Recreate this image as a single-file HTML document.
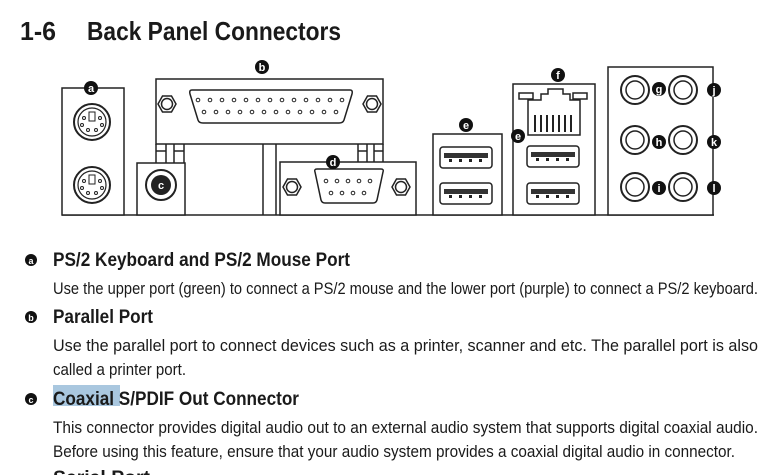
<!DOCTYPE html>
<html><head><meta charset="utf-8"><style>
html,body{margin:0;padding:0;background:#fff;width:770px;height:475px;overflow:hidden}
svg{display:block}
text{font-family:"Liberation Sans",sans-serif;fill:#1a1a1a}
</style></head><body>
<svg width="770" height="475" viewBox="0 0 770 475" xmlns="http://www.w3.org/2000/svg">
<defs>
<g id="ps2"><circle r="18" fill="#fff" stroke="#222" stroke-width="2"/><circle r="14" fill="none" stroke="#222" stroke-width="1.2"/><rect x="-3" y="-10" width="6" height="9" fill="#fff" stroke="#222"/><circle cx="-8" cy="-4" r="1.5" fill="none" stroke="#222"/><circle cx="8" cy="-4" r="1.5" fill="none" stroke="#222"/><circle cx="-10" cy="3" r="1.5" fill="none" stroke="#222"/><circle cx="10" cy="3" r="1.5" fill="none" stroke="#222"/><circle cx="-4" cy="8" r="1.5" fill="none" stroke="#222"/><circle cx="4" cy="8" r="1.5" fill="none" stroke="#222"/></g>
<g id="screw"><polygon points="-9,0 -4.5,-8 4.5,-8 9,0 4.5,8 -4.5,8" fill="#fff" stroke="#222" stroke-width="1.5"/><circle r="5.5" fill="none" stroke="#222" stroke-width="1.5"/></g>
<g id="usb"><rect x="0" y="0" width="52" height="21" rx="3" fill="#fff" stroke="#222" stroke-width="1.5"/><rect x="4" y="6" width="44" height="5" fill="#333"/><rect x="9" y="12" width="3" height="3" fill="#222"/><rect x="19" y="12" width="3" height="3" fill="#222"/><rect x="29" y="12" width="3" height="3" fill="#222"/><rect x="39" y="12" width="3" height="3" fill="#222"/></g>
<g id="jack"><circle r="14" fill="#fff" stroke="#222" stroke-width="2"/><circle r="9" fill="none" stroke="#222" stroke-width="1.5"/></g>
</defs>
<text x="20" y="40" font-size="26" font-weight="bold" textLength="36" lengthAdjust="spacingAndGlyphs">1-6</text>
<text x="87" y="40" font-size="26" font-weight="bold" textLength="254" lengthAdjust="spacingAndGlyphs">Back Panel Connectors</text>

<g fill="none" stroke="#222" stroke-width="1.5">
<line x1="62" y1="215" x2="714" y2="215"/>
<rect x="62" y="88" width="62" height="127" fill="#fff"/>
<rect x="156" y="79" width="227" height="65" fill="#fff"/>
<line x1="156" y1="144" x2="156" y2="163"/><line x1="166" y1="144" x2="166" y2="163"/><line x1="174" y1="144" x2="174" y2="163"/><line x1="184" y1="144" x2="184" y2="163"/>
<line x1="156" y1="151" x2="166" y2="151"/><line x1="174" y1="151" x2="184" y2="151"/>
<rect x="137" y="163" width="48" height="52" fill="#fff"/>
<line x1="263" y1="144" x2="263" y2="215"/><line x1="276" y1="144" x2="276" y2="215"/>
<line x1="358" y1="144" x2="358" y2="162"/><line x1="367" y1="144" x2="367" y2="162"/><line x1="374" y1="144" x2="374" y2="162"/><line x1="383" y1="144" x2="383" y2="162"/>
<line x1="358" y1="151" x2="367" y2="151"/><line x1="374" y1="151" x2="383" y2="151"/>
<rect x="280" y="162" width="136" height="53" fill="#fff"/>
<rect x="433" y="134" width="69" height="81" fill="#fff"/>
<rect x="513" y="84" width="82" height="131" fill="#fff"/>
<rect x="608" y="67" width="105" height="148" fill="#fff"/>
<path d="M192 90 H350 Q353 90 352 94 L344 120 Q343 123 339 123 H203 Q199 123 198 120 L190 94 Q189 90 192 90 Z"/>
<path d="M317 169 H381 Q384 169 383 172 L377 200 Q376 203 373 203 H325 Q322 203 321 200 L315 172 Q314 169 317 169 Z"/>
<path d="M528 135 V100 H541 V94 H548 V89 H563 V94 H570 V100 H580 V135 Z"/>
<rect x="519" y="93" width="14" height="6"/><rect x="573" y="93" width="14" height="6"/>
</g>
<g fill="none" stroke="#222" stroke-width="1">
<circle cx="198" cy="100" r="1.8"/><circle cx="210" cy="100" r="1.8"/><circle cx="222" cy="100" r="1.8"/><circle cx="234" cy="100" r="1.8"/><circle cx="246" cy="100" r="1.8"/><circle cx="258" cy="100" r="1.8"/><circle cx="270" cy="100" r="1.8"/><circle cx="282" cy="100" r="1.8"/><circle cx="294" cy="100" r="1.8"/><circle cx="306" cy="100" r="1.8"/><circle cx="318" cy="100" r="1.8"/><circle cx="330" cy="100" r="1.8"/><circle cx="342" cy="100" r="1.8"/>
<circle cx="204" cy="112" r="1.8"/><circle cx="216" cy="112" r="1.8"/><circle cx="228" cy="112" r="1.8"/><circle cx="240" cy="112" r="1.8"/><circle cx="252" cy="112" r="1.8"/><circle cx="264" cy="112" r="1.8"/><circle cx="276" cy="112" r="1.8"/><circle cx="288" cy="112" r="1.8"/><circle cx="300" cy="112" r="1.8"/><circle cx="312" cy="112" r="1.8"/><circle cx="324" cy="112" r="1.8"/><circle cx="336" cy="112" r="1.8"/>
<circle cx="326" cy="181" r="1.8"/><circle cx="337" cy="181" r="1.8"/><circle cx="348" cy="181" r="1.8"/><circle cx="359" cy="181" r="1.8"/><circle cx="370" cy="181" r="1.8"/>
<circle cx="331" cy="193" r="1.8"/><circle cx="342" cy="193" r="1.8"/><circle cx="353" cy="193" r="1.8"/><circle cx="364" cy="193" r="1.8"/>
</g>
<g fill="#222"><rect x="534" y="115" width="2" height="17"/><rect x="540" y="115" width="2" height="17"/><rect x="546" y="115" width="2" height="17"/><rect x="552" y="115" width="2" height="17"/><rect x="558" y="115" width="2" height="17"/><rect x="564" y="115" width="2" height="17"/><rect x="570" y="115" width="2" height="17"/></g>
<use href="#ps2" x="92" y="122"/><use href="#ps2" x="92" y="185"/>
<use href="#screw" x="167" y="104"/><use href="#screw" x="372" y="104"/>
<use href="#screw" x="292" y="187"/><use href="#screw" x="401" y="187"/>
<circle cx="161" cy="185" r="15" fill="#fff" stroke="#222" stroke-width="2"/><circle cx="161" cy="185" r="10" fill="#222"/>
<use href="#usb" x="440" y="147"/><use href="#usb" x="440" y="183"/>
<use href="#usb" x="527" y="146"/><use href="#usb" x="527" y="183"/>
<use href="#jack" x="635" y="90"/><use href="#jack" x="683" y="90"/><use href="#jack" x="635" y="140"/><use href="#jack" x="683" y="140"/><use href="#jack" x="635" y="187"/><use href="#jack" x="683" y="187"/>
<g font-family="Liberation Serif" font-weight="bold" font-size="11" text-anchor="middle">
<circle cx="91" cy="88" r="7" fill="#111"/><text x="91" y="92" style="fill:#fff">a</text>
<circle cx="262" cy="67" r="7" fill="#111"/><text x="262" y="71" style="fill:#fff">b</text>
<text x="161" y="189" style="fill:#fff">c</text>
<circle cx="333" cy="162" r="7" fill="#111"/><text x="333" y="166" style="fill:#fff">d</text>
<circle cx="466" cy="125" r="7" fill="#111"/><text x="466" y="129" style="fill:#fff">e</text>
<circle cx="518" cy="136" r="7" fill="#111"/><text x="518" y="140" style="fill:#fff">e</text>
<circle cx="558" cy="75" r="7" fill="#111"/><text x="558" y="79" style="fill:#fff">f</text>
<circle cx="659" cy="89" r="7" fill="#111"/><text x="659" y="93" style="fill:#fff">g</text>
<circle cx="659" cy="142" r="7" fill="#111"/><text x="659" y="146" style="fill:#fff">h</text>
<circle cx="659" cy="188" r="7" fill="#111"/><text x="659" y="192" style="fill:#fff">i</text>
<circle cx="714" cy="90" r="7" fill="#111"/><text x="714" y="94" style="fill:#fff">j</text>
<circle cx="714" cy="142" r="7" fill="#111"/><text x="714" y="146" style="fill:#fff">k</text>
<circle cx="714" cy="188" r="7" fill="#111"/><text x="714" y="192" style="fill:#fff">l</text>
<circle cx="31" cy="260" r="6" fill="#111"/><text x="31" y="264" font-size="9" style="fill:#fff">a</text>
<circle cx="31" cy="317" r="6" fill="#111"/><text x="31" y="321" font-size="9" style="fill:#fff">b</text>
<circle cx="31" cy="399" r="6" fill="#111"/><text x="31" y="403" font-size="9" style="fill:#fff">c</text>
</g>
<rect x="53" y="385" width="67" height="21" fill="#a9c7df"/>
<g font-size="19" font-weight="bold">
<text x="53" y="266" textLength="297" lengthAdjust="spacingAndGlyphs">PS/2 Keyboard and PS/2 Mouse Port</text>
<text x="53" y="323" textLength="100" lengthAdjust="spacingAndGlyphs">Parallel Port</text>
<text x="53" y="405" textLength="246" lengthAdjust="spacingAndGlyphs">Coaxial S/PDIF Out Connector</text>
<text x="53" y="484" textLength="97" lengthAdjust="spacingAndGlyphs">Serial Port</text>
</g>
<g font-size="17">
<text x="53" y="294" textLength="705" lengthAdjust="spacingAndGlyphs">Use the upper port (green) to connect a PS/2 mouse and the lower port (purple) to connect a PS/2 keyboard.</text>
<text x="53" y="351" textLength="705" lengthAdjust="spacingAndGlyphs">Use the parallel port to connect devices such as a printer, scanner and etc. The parallel port is also</text>
<text x="53" y="375" textLength="133" lengthAdjust="spacingAndGlyphs">called a printer port.</text>
<text x="53" y="433" textLength="705" lengthAdjust="spacingAndGlyphs">This connector provides digital audio out to an external audio system that supports digital coaxial audio.</text>
<text x="53" y="457" textLength="682" lengthAdjust="spacingAndGlyphs">Before using this feature, ensure that your audio system provides a coaxial digital audio in connector.</text>
</g>
</svg>
</body></html>
